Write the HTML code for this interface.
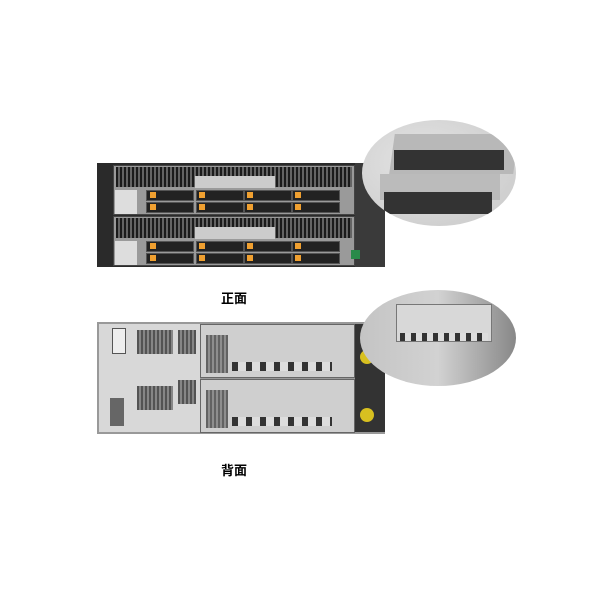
<!DOCTYPE html><html><head><meta charset="utf-8"><style>
body{margin:0;width:600px;height:600px;background:#fff;position:relative;overflow:hidden;font-family:"Liberation Sans","Noto Sans CJK SC",sans-serif}
div{position:absolute;box-sizing:border-box}
.mesh{background:repeating-linear-gradient(90deg,#333 0 2px,#bbb 2px 4px),#888;background-blend-mode:multiply}
.bay{background:#222;border:1px solid #555}
.tab{background:#f0a030;width:6px;height:6px}
.lbl{font-weight:bold;font-size:13px;color:#000}
</style></head><body>
<!-- FRONT -->
<div style="left:97px;top:163px;width:288px;height:104px;background:#2a2a2a"></div>
<div style="left:113px;top:165px;width:242px;height:50px;background:#9a9a9a;border:1px solid #444"></div>
<div style="left:113px;top:216px;width:242px;height:50px;background:#9a9a9a;border:1px solid #444"></div>
<div class="mesh" style="left:116px;top:167px;width:236px;height:20px"></div>
<div class="mesh" style="left:116px;top:218px;width:236px;height:20px"></div>
<div style="left:195px;top:176px;width:80px;height:12px;background:#ccc"></div>
<div style="left:195px;top:227px;width:80px;height:12px;background:#ccc"></div>
<div style="left:115px;top:190px;width:22px;height:24px;background:#ddd"></div>
<div style="left:115px;top:241px;width:22px;height:24px;background:#ddd"></div>
<div style="left:355px;top:163px;width:30px;height:104px;background:#3a3a3a"></div>
<div style="left:351px;top:250px;width:9px;height:9px;background:#2a8a4a"></div>
<!-- bays -->
<div class="bay" style="left:146px;top:190px;width:48px;height:11px"></div><div class="bay" style="left:196px;top:190px;width:48px;height:11px"></div><div class="bay" style="left:244px;top:190px;width:48px;height:11px"></div><div class="bay" style="left:292px;top:190px;width:48px;height:11px"></div>
<div class="bay" style="left:146px;top:202px;width:48px;height:11px"></div><div class="bay" style="left:196px;top:202px;width:48px;height:11px"></div><div class="bay" style="left:244px;top:202px;width:48px;height:11px"></div><div class="bay" style="left:292px;top:202px;width:48px;height:11px"></div>
<div class="bay" style="left:146px;top:241px;width:48px;height:11px"></div><div class="bay" style="left:196px;top:241px;width:48px;height:11px"></div><div class="bay" style="left:244px;top:241px;width:48px;height:11px"></div><div class="bay" style="left:292px;top:241px;width:48px;height:11px"></div>
<div class="bay" style="left:146px;top:253px;width:48px;height:11px"></div><div class="bay" style="left:196px;top:253px;width:48px;height:11px"></div><div class="bay" style="left:244px;top:253px;width:48px;height:11px"></div><div class="bay" style="left:292px;top:253px;width:48px;height:11px"></div>
<div class="tab" style="left:150px;top:192px"></div><div class="tab" style="left:199px;top:192px"></div><div class="tab" style="left:247px;top:192px"></div><div class="tab" style="left:295px;top:192px"></div>
<div class="tab" style="left:150px;top:204px"></div><div class="tab" style="left:199px;top:204px"></div><div class="tab" style="left:247px;top:204px"></div><div class="tab" style="left:295px;top:204px"></div>
<div class="tab" style="left:150px;top:243px"></div><div class="tab" style="left:199px;top:243px"></div><div class="tab" style="left:247px;top:243px"></div><div class="tab" style="left:295px;top:243px"></div>
<div class="tab" style="left:150px;top:255px"></div><div class="tab" style="left:199px;top:255px"></div><div class="tab" style="left:247px;top:255px"></div><div class="tab" style="left:295px;top:255px"></div>
<!-- front ellipse -->
<div style="left:362px;top:120px;width:154px;height:106px;border-radius:50%;background:radial-gradient(ellipse at 40% 40%,#e4e4e4,#c8c8c8);overflow:hidden">
 <div style="left:30px;top:14px;width:124px;height:40px;background:#b8b8b8;transform:skewX(-8deg)"></div>
 <div style="left:32px;top:30px;width:110px;height:20px;background:#333"></div>
 <div style="left:18px;top:54px;width:120px;height:26px;background:#bbb"></div>
 <div style="left:22px;top:72px;width:108px;height:22px;background:#333"></div>
</div>
<div class="lbl" style="left:221px;top:288px">正面</div>
<!-- REAR -->
<div style="left:97px;top:322px;width:288px;height:112px;background:#999"></div>
<div style="left:99px;top:324px;width:101px;height:108px;background:#d8d8d8"></div>
<div style="left:112px;top:328px;width:14px;height:26px;background:#eee;border:1px solid #555"></div>
<div class="mesh" style="left:137px;top:330px;width:36px;height:24px;opacity:.7"></div>
<div class="mesh" style="left:178px;top:330px;width:18px;height:24px;opacity:.7"></div>
<div class="mesh" style="left:137px;top:386px;width:36px;height:24px;opacity:.7"></div>
<div class="mesh" style="left:178px;top:380px;width:18px;height:24px;opacity:.7"></div>
<div style="left:110px;top:398px;width:14px;height:28px;background:#666"></div>
<div style="left:200px;top:324px;width:155px;height:54px;background:#cfcfcf;border:1px solid #666"></div>
<div style="left:200px;top:379px;width:155px;height:54px;background:#cfcfcf;border:1px solid #666"></div>
<div class="mesh" style="left:206px;top:335px;width:22px;height:38px;opacity:.6"></div>
<div class="mesh" style="left:206px;top:390px;width:22px;height:38px;opacity:.6"></div>
<div style="left:232px;top:362px;width:100px;height:9px;background:repeating-linear-gradient(90deg,#333 0 6px,#ddd 6px 14px)"></div>
<div style="left:232px;top:417px;width:100px;height:9px;background:repeating-linear-gradient(90deg,#333 0 6px,#ddd 6px 14px)"></div>
<div style="left:355px;top:324px;width:30px;height:108px;background:#333"></div>
<div style="left:360px;top:350px;width:14px;height:14px;border-radius:50%;background:#d8c020"></div>
<div style="left:360px;top:408px;width:14px;height:14px;border-radius:50%;background:#d8c020"></div>
<!-- rear ellipse -->
<div style="left:360px;top:290px;width:156px;height:96px;border-radius:50%;background:linear-gradient(90deg,#c4c4c4,#d2d2d2 50%,#888);overflow:hidden">
 <div style="left:36px;top:14px;width:96px;height:38px;background:#d8d8d8;border:1px solid #777"></div>
 <div style="left:40px;top:43px;width:88px;height:8px;background:repeating-linear-gradient(90deg,#333 0 5px,#ddd 5px 11px)"></div>
</div>
<div class="lbl" style="left:221px;top:460px">背面</div>
</body></html>
